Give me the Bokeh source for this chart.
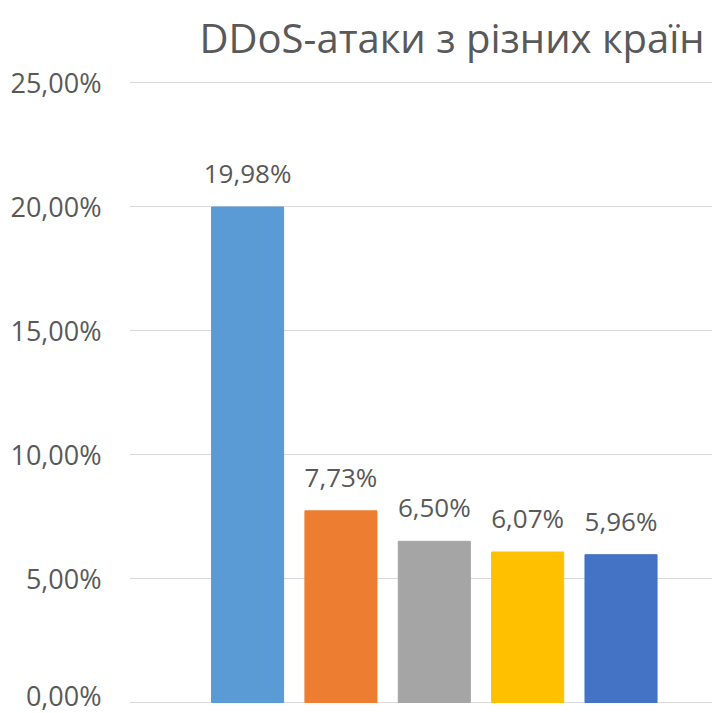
from bokeh.plotting import figure
from bokeh.models import Range1d, FixedTicker, ColumnDataSource
from bokeh.embed import file_html
from bokeh.resources import INLINE
from bokeh.core.properties import value

# ---- data ----
values = [19.98, 7.73, 6.50, 6.07, 5.96]
colors = ["#5B9BD5", "#ED7D31", "#A5A5A5", "#FFC000", "#4472C4"]
ticks = [0, 5, 10, 15, 20, 25]
title_text = "DDoS-атаки з різних країн"

def pct(v):
    return ("%.2f%%" % v).replace(".", ",")

xs = list(range(1, len(values) + 1))
src = ColumnDataSource(dict(x=xs, top=values, color=colors,
                            label=[pct(v) for v in values]))

FONT = "Open Sans"
TXT = "#595959"

p = figure(width=712, height=713, output_backend="svg", toolbar_location=None,
           x_range=Range1d(-0.265, 5.98), y_range=Range1d(-0.12, 25.443),
           min_border_left=129, min_border_right=0, min_border_top=70,
           min_border_bottom=8)
p.outline_line_color = None
p.background_fill_color = "white"
p.border_fill_color = "white"

p.vbar(x="x", top="top", bottom=0, width=0.772, color="color", source=src)
p.text(x="x", y="top", text="label", source=src, text_align="center",
       text_baseline="alphabetic", y_offset=-34, text_font=value(FONT),
       text_font_size="26px", text_color=TXT)

p.title.text = title_text
p.title.text_font = FONT
p.title.text_font_size = "40px"
p.title.text_font_style = "normal"
p.title.text_color = TXT
p.title.align = "left"
p.title.offset = 70
p.title.standoff = 14

p.xaxis.visible = False
p.xgrid.visible = False
p.ygrid.grid_line_color = "#D9D9D9"
p.ygrid.grid_line_width = 1

ya = p.yaxis[0]
ya.ticker = FixedTicker(ticks=ticks)
ya.major_label_overrides = {t: pct(t) for t in ticks}
ya.axis_line_color = None
ya.major_tick_line_color = None
ya.minor_tick_line_color = None
ya.major_tick_out = 0
ya.major_tick_in = 0
ya.major_label_standoff = 28
ya.major_label_text_font = FONT
ya.major_label_text_font_size = "27px"
ya.major_label_text_color = TXT

open("out.html", "w").write(file_html(p, INLINE))
